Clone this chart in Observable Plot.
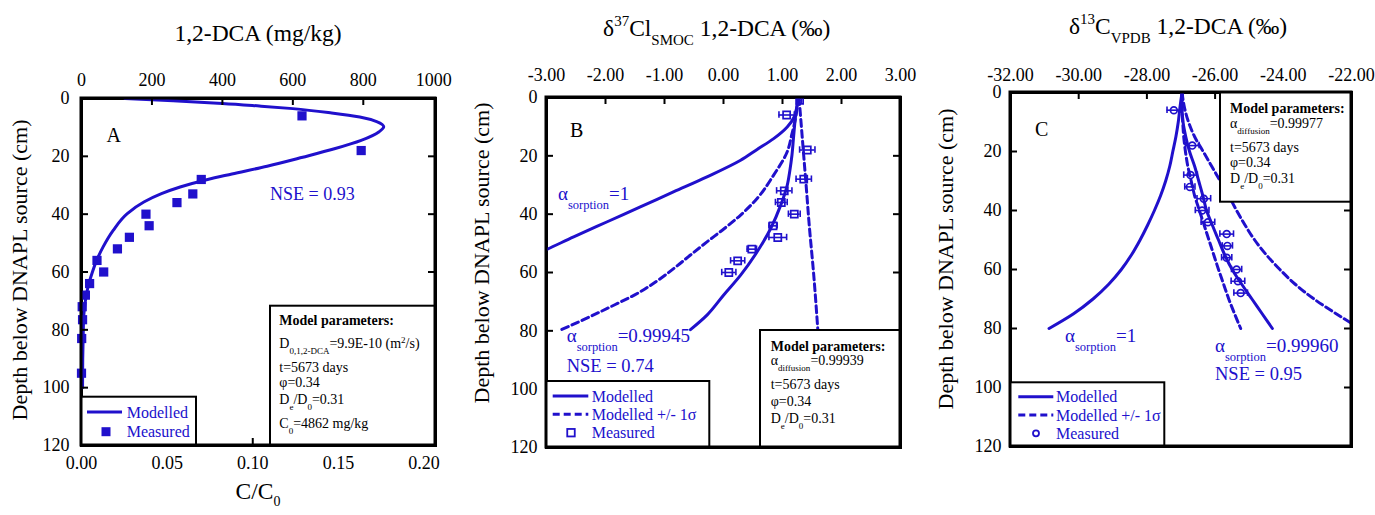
<!DOCTYPE html>
<html><head><meta charset="utf-8">
<script src="https://cdn.jsdelivr.net/npm/d3@7"></script>
<script src="https://cdn.jsdelivr.net/npm/@observablehq/plot@0.6"></script>
<style>
html,body{margin:0;padding:0;background:#fff;}
#wrap{position:relative;width:1375px;height:515px;overflow:hidden;background:#fff;}
#wrap svg{position:absolute;top:0;}
</style></head><body><div id="wrap"></div>
<script>
const BLUE = "#2010cc";
const FONT = "Liberation Serif";
const C0 = 4862;

// ---------- shared ----------
const depthTicks = [0, 20, 40, 60, 80, 100, 120];
const depthInner = [20, 40, 60, 80, 100];

// ---------- Panel A : 1,2-DCA concentration ----------
const aTopTicks = [0, 200, 400, 600, 800, 1000];
const aBottomTicks = [0, 0.05, 0.10, 0.15, 0.20];
const aMeasDepth = [6, 18, 28, 33, 36, 40, 44, 48, 52, 56, 60, 64, 68, 72, 76.5, 83, 95];
const aMeasConc  = [626, 794, 340, 316, 271, 183, 192, 136, 102, 44, 63, 23, 11, 2, 3, 0.5, 0];
const aModelDepth = [0, 0.8, 1.7, 2.6, 3.5, 5, 6.4, 8, 9.8, 11.5, 14.5, 17.4, 20.3, 23.4, 26.1, 28, 30.6, 32.9, 35.8, 39.8, 45.6, 51.4, 56, 60, 64, 68, 72, 76, 81, 90, 100];
const aModelConc  = [123, 260, 400, 505, 600, 710, 790, 838, 858, 845, 794, 718, 628, 527, 427, 358, 280, 227, 177, 130, 90, 61, 43, 31, 21, 13.5, 9, 6, 5, 3.5, 3];

// ---------- Panel B : d37Cl ----------
const bTopTicks = [-3, -2, -1, 0, 1, 2, 3];
const bMeasDepth = [1, 6, 18, 28, 32, 36, 40, 44, 48, 52, 56, 60];
const bMeasDelta = [1.29, 1.07, 1.42, 1.36, 1.03, 0.98, 1.2, 0.84, 0.92, 0.48, 0.24, 0.09];
const bMeasErr   = [0.03, 0.13, 0.13, 0.13, 0.13, 0.1, 0.1, 0.07, 0.15, 0.08, 0.12, 0.12];
const bSorp1Depth = [0, 3.5, 6.6, 10.1, 14.1, 17.8, 21.5, 27.2, 32.3, 37.5, 42.6, 47.8, 52.3, 55];
const bSorp1Delta = [1.27, 1.24, 1.2, 1.08, 0.85, 0.57, 0.29, -0.28, -0.84, -1.41, -1.97, -2.54, -3.02, -3.32];
const bFitDepth = [0, 6.6, 13, 19.8, 25, 30.1, 36.9, 44.9, 52.9, 60.9, 67.8, 74.6, 79.6];
const bFitDelta = [1.27, 1.22, 1.19, 1.16, 1.125, 1.08, 0.97, 0.8, 0.57, 0.29, 0.0, -0.28, -0.56];
const bLowDepth = [0, 7.2, 12.5, 18.6, 26.6, 34.6, 40.3, 45, 49.5, 54, 58.6, 62.8, 66.6, 72.3, 76.9, 79.6];
const bLowDelta = [1.27, 1.22, 1.16, 1.08, 0.85, 0.57, 0.29, 0.01, -0.28, -0.56, -0.84, -1.12, -1.41, -1.97, -2.45, -2.75];
const bHighDepth = [0, 10, 20, 30, 43, 61, 80];
const bHighDelta = [1.28, 1.32, 1.36, 1.4, 1.45, 1.53, 1.6];

// ---------- Panel C : d13C ----------
const cTopTicks = [-32, -30, -28, -26, -24, -22];
const cMeasDepth = [6, 18, 28, 32, 36, 40, 44, 48, 52, 56, 60, 64, 68];
const cMeasDelta = [-27.21, -26.67, -26.72, -26.74, -26.33, -26.38, -26.21, -25.66, -25.64, -25.66, -25.37, -25.33, -25.25];
const cMeasErr   = [0.2, 0.2, 0.2, 0.15, 0.2, 0.2, 0.2, 0.2, 0.15, 0.15, 0.15, 0.2, 0.2];
const cModelDepth = [0, 5, 10, 15, 20, 25, 30, 35, 40, 45, 50, 55, 60, 65, 70, 75, 80];
const cSorp1Delta = [-26.97, -27.03, -27.08, -27.15, -27.24, -27.33, -27.45, -27.6, -27.78, -27.98, -28.2, -28.45, -28.75, -29.12, -29.58, -30.15, -30.87];
const cFitDelta   = [-26.97, -26.97, -26.94, -26.86, -26.75, -26.6, -26.48, -26.36, -26.25, -26.08, -25.9, -25.72, -25.5, -25.22, -24.92, -24.62, -24.32];
const cLowDelta   = [-26.97, -26.97, -26.95, -26.92, -26.87, -26.8, -26.7, -26.6, -26.46, -26.32, -26.18, -26.04, -25.9, -25.75, -25.6, -25.43, -25.25];
const cHighDelta  = [-26.97, -26.9, -26.78, -26.6, -26.35, -26.1, -25.85, -25.6, -25.37, -25.12, -24.84, -24.5, -24.1, -23.65, -23.1, -22.45, -21.75];

// ---------- helpers ----------
const pts = (depth, val, err) => depth.map((d, i) => ({d, v: val[i], e: err ? err[i] : 0}));
const wrap = document.getElementById("wrap");

function makePanel(o) {
  const height = 515;
  const innerW = o.width - o.ml - o.mr, innerH = height - o.mt - o.mb;
  const L = 7;
  const tk = {stroke: "black", strokeWidth: 2};
  const marks = [
    Plot.frame({stroke: "black", strokeWidth: 3}),
    ...o.marks,
    Plot.tickX(o.topInner, {x: d => d, insetBottom: innerH - L, ...tk}),
    Plot.tickY(depthInner, {y: d => d, insetRight: innerW - L, ...tk}),
    Plot.tickY(depthInner, {y: d => d, insetLeft: innerW - L, ...tk}),
    Plot.axisX({anchor: "top", ticks: o.topTicks, tickSize: 0, tickPadding: o.topPad, tickFormat: o.topFmt, label: null}),
    Plot.axisY({anchor: "left", ticks: depthTicks, tickSize: 0, tickPadding: o.yPad, tickFormat: d => String(d), label: null})
  ];
  if (o.bottomTicks) {
    marks.push(
      Plot.tickX(o.bottomTicks.slice(1), {x: d => d, insetTop: innerH - L, ...tk}),
      Plot.axisX({anchor: "bottom", ticks: o.bottomTicks, tickSize: 0, tickPadding: 11, tickFormat: o.bottomFmt, label: null})
    );
  }
  const svg = Plot.plot({
    width: o.width, height,
    marginLeft: o.ml, marginRight: o.mr, marginTop: o.mt, marginBottom: o.mb,
    x: {domain: o.xDomain},
    y: {domain: [0, 120], reverse: true},
    style: {fontFamily: FONT, fontSize: "18px", color: "black", background: "transparent", overflow: "visible"},
    marks
  });
  svg.style.left = o.left + "px";
  wrap.appendChild(svg);
  const g = d3.select(svg).append("g");
  const X = x => x - o.left;
  const api = {
    text(x, y, parts, opt = {}) {
      const size = opt.size || 18;
      const t = g.append("text").attr("x", X(x)).attr("y", y)
        .attr("font-family", FONT).attr("font-size", size)
        .attr("text-anchor", opt.anchor || "start")
        .attr("font-weight", opt.weight || "normal")
        .attr("fill", opt.fill || "black");
      if (opt.rotate) t.attr("transform", `rotate(${opt.rotate},${X(x)},${y})`);
      let shift = 0;
      for (const p of parts) {
        const [s, k = "n", sz, off] = typeof p === "string" ? [p] : p;
        const target = k === "sub" ? (off ?? size * 0.42) : k === "sup" ? -(off ?? size * 0.42) : 0;
        const ts = t.append("tspan").text(s).attr("dy", target - shift);
        if (k !== "n") ts.attr("font-size", sz || Math.round(size * 0.62));
        shift = target;
      }
      return t;
    },
    rect(x1, y1, x2, y2) {
      g.append("rect").attr("x", X(x1)).attr("y", y1).attr("width", x2 - x1).attr("height", y2 - y1)
        .attr("fill", "white").attr("stroke", "black").attr("stroke-width", 2);
    },
    line(x1, y, x2, dash) {
      const l = g.append("line").attr("x1", X(x1)).attr("x2", X(x2)).attr("y1", y).attr("y2", y)
        .attr("stroke", BLUE).attr("stroke-width", 3);
      if (dash) l.attr("stroke-dasharray", "7,4");
    },
    square(x, y, s, filled) {
      g.append("rect").attr("x", X(x) - s / 2).attr("y", y - s / 2).attr("width", s).attr("height", s)
        .attr("fill", filled ? BLUE : "none").attr("stroke", BLUE).attr("stroke-width", filled ? 0 : 1.8);
    },
    circle(x, y, r) {
      g.append("circle").attr("cx", X(x)).attr("cy", y).attr("r", r)
        .attr("fill", "none").attr("stroke", BLUE).attr("stroke-width", 1.8);
    },
    frame() {
      g.append("rect").attr("x", o.ml).attr("y", o.mt).attr("width", innerW).attr("height", innerH)
        .attr("fill", "none").attr("stroke", "black").attr("stroke-width", 3);
    }
  };
  return api;
}

const solid = {stroke: BLUE, strokeWidth: 3, curve: "monotone-y"};
const dashed = {stroke: BLUE, strokeWidth: 3, strokeDasharray: "7,4", curve: "monotone-y"};

function errMarks(data, shape) {
  const st = {stroke: BLUE, strokeWidth: 1.6};
  return [
    Plot.ruleY(data, {y: "d", x1: d => d.v - d.e, x2: d => d.v + d.e, ...st}),
    Plot.ruleX(data, {x: d => d.v - d.e, y1: d => d.d - 1.1, y2: d => d.d + 1.1, ...st}),
    Plot.ruleX(data, {x: d => d.v + d.e, y1: d => d.d - 1.1, y2: d => d.d + 1.1, ...st}),
    shape === "square"
      ? Plot.dot(data, {x: "v", y: "d", symbol: "square", r: 4, stroke: BLUE, strokeWidth: 1.7, fill: "none"})
      : Plot.dot(data, {x: "v", y: "d", r: 3.4, stroke: BLUE, strokeWidth: 1.7, fill: "none"})
  ];
}

// ---------- Panel A ----------
const A = makePanel({
  left: 0, width: 460, ml: 81, mr: 25, mt: 98, mb: 70,
  xDomain: [0, 1005],
  topTicks: aTopTicks, topInner: [200, 400, 600, 800], topFmt: d => String(d), topPad: 13, yPad: 12,
  bottomTicks: aBottomTicks.map(c => c * C0), bottomFmt: d => (d / C0).toFixed(2),
  marks: [
    Plot.line(pts(aModelDepth, aModelConc), {x: "v", y: "d", ...solid}),
    Plot.dot(pts(aMeasDepth, aMeasConc), {x: "v", y: "d", symbol: "square", r: 5.2, fill: BLUE})
  ]
});
A.text(258, 41, ["1,2-DCA (mg/kg)"], {size: 23.5, anchor: "middle"});
A.text(27, 270, ["Depth below DNAPL source (cm)"], {size: 22, anchor: "middle", rotate: -90});
A.text(258, 499, ["C/C", ["0", "sub", 14, 7]], {size: 23.5, anchor: "middle"});
A.text(106.5, 141.7, ["A"], {size: 20});
A.text(270, 200, ["NSE = 0.93"], {size: 18, fill: BLUE});
A.rect(81, 396.7, 196, 445);
A.line(87, 412, 122);
A.text(126.7, 418.3, ["Modelled"], {size: 16, fill: BLUE});
A.square(106, 431.7, 9, true);
A.text(126.7, 437.3, ["Measured"], {size: 16, fill: BLUE});
A.rect(270, 305.7, 435, 445);
A.text(279.3, 325, ["Model parameters:"], {size: 14, weight: "bold"});
A.text(279.3, 348.3, ["D", ["0,1,2-DCA", "sub", 9, 6], "=9.9E-10 (m", ["2", "sup", 9, 5], "/s)"], {size: 14});
A.text(279.3, 371.7, ["t=5673 days"], {size: 14});
A.text(279.3, 387.3, ["φ=0.34"], {size: 14});
A.text(279.3, 404, ["D", ["e", "sub", 9, 6], "/D", ["0", "sub", 9, 6], "=0.31"], {size: 14});
A.text(279.3, 428.3, ["C", ["0", "sub", 9, 6], "=4862 mg/kg"], {size: 14});
A.frame();

// ---------- Panel B ----------
const B = makePanel({
  left: 460, width: 470, ml: 86, mr: 30, mt: 97, mb: 68,
  xDomain: [-3, 3],
  topTicks: bTopTicks, topInner: [-2, -1, 0, 1, 2], topFmt: d => d.toFixed(2), topPad: 17, yPad: 9,
  marks: [
    Plot.line(pts(bSorp1Depth, bSorp1Delta), {x: "v", y: "d", ...solid, clip: true}),
    Plot.line(pts(bLowDepth, bLowDelta), {x: "v", y: "d", ...dashed}),
    Plot.line(pts(bFitDepth, bFitDelta), {x: "v", y: "d", ...solid}),
    Plot.line(pts(bHighDepth, bHighDelta), {x: "v", y: "d", ...dashed}),
    ...errMarks(pts(bMeasDepth, bMeasDelta, bMeasErr), "square")
  ]
});
B.text(716.7, 36, ["δ", ["37", "sup", 15, 10], "Cl", ["SMOC", "sub", 15, 9], " 1,2-DCA (‰)"], {size: 23.5, anchor: "middle"});
B.text(489, 253, ["Depth below DNAPL source (cm)"], {size: 22, anchor: "middle", rotate: -90});
B.text(570, 137, ["B"], {size: 20});
B.text(558, 199.7, ["α", ["sorption", "sub", 12.5, 9], "=1"], {size: 19, fill: BLUE});
B.text(566.7, 341.7, ["α", ["sorption", "sub", 12.5, 9], "=0.99945"], {size: 19, fill: BLUE});
B.text(566.7, 371.7, ["NSE = 0.74"], {size: 18.5, fill: BLUE});
B.rect(546, 381, 709.3, 447);
B.line(552.7, 396, 588.3);
B.text(591.7, 401.7, ["Modelled"], {size: 16, fill: BLUE});
B.line(552.7, 414.3, 588.3, true);
B.text(591.7, 420, ["Modelled +/- 1σ"], {size: 16, fill: BLUE});
B.square(571, 432.7, 7.5, false);
B.text(591.7, 438.3, ["Measured"], {size: 16, fill: BLUE});
B.rect(760, 330, 900, 447);
B.text(770.7, 350.7, ["Model parameters:"], {size: 14, weight: "bold"});
B.text(770.7, 365, ["α", ["diffusion", "sub", 9, 6], "=0.99939"], {size: 14});
B.text(770.7, 389.3, ["t=5673 days"], {size: 14});
B.text(770.7, 406, ["φ=0.34"], {size: 14});
B.text(770.7, 422.7, ["D", ["e", "sub", 9, 6], "/D", ["0", "sub", 9, 6], "=0.31"], {size: 14});
B.frame();

// ---------- Panel C ----------
const C = makePanel({
  left: 930, width: 445, ml: 80, mr: 24, mt: 92, mb: 69,
  xDomain: [-32, -22],
  topTicks: cTopTicks, topInner: [-30, -28, -26, -24], topFmt: d => d.toFixed(2), topPad: 12, yPad: 9,
  marks: [
    Plot.line(pts(cModelDepth, cSorp1Delta), {x: "v", y: "d", ...solid}),
    Plot.line(pts(cModelDepth, cLowDelta), {x: "v", y: "d", ...dashed}),
    Plot.line(pts(cModelDepth, cFitDelta), {x: "v", y: "d", ...solid}),
    Plot.line(pts(cModelDepth, cHighDelta), {x: "v", y: "d", ...dashed, clip: true}),
    ...errMarks(pts(cMeasDepth, cMeasDelta, cMeasErr), "circle")
  ]
});
C.text(1178, 34, ["δ", ["13", "sup", 15, 10], "C", ["VPDB", "sub", 15, 9], " 1,2-DCA (‰)"], {size: 23.5, anchor: "middle"});
C.text(953, 259, ["Depth below DNAPL source (cm)"], {size: 22, anchor: "middle", rotate: -90});
C.text(1035, 136, ["C"], {size: 20});
C.text(1065, 341.7, ["α", ["sorption", "sub", 12.5, 9], "=1"], {size: 19, fill: BLUE});
C.text(1215, 351.7, ["α", ["sorption", "sub", 12.5, 9], "=0.99960"], {size: 19, fill: BLUE});
C.text(1215, 380, ["NSE = 0.95"], {size: 18.5, fill: BLUE});
C.rect(1010, 382.3, 1164.3, 447);
C.line(1018.3, 396.7, 1053.3);
C.text(1056, 402.3, ["Modelled"], {size: 16, fill: BLUE});
C.line(1018.3, 415, 1053.3, true);
C.text(1056, 420.7, ["Modelled +/- 1σ"], {size: 16, fill: BLUE});
C.circle(1036, 433.3, 3);
C.text(1056, 439.3, ["Measured"], {size: 16, fill: BLUE});
C.rect(1220, 92, 1351, 201.7);
C.text(1230, 113.3, ["Model parameters:"], {size: 14, weight: "bold"});
C.text(1230, 128.3, ["α", ["diffusion", "sub", 9, 6], "=0.99977"], {size: 14});
C.text(1230, 151.7, ["t=5673 days"], {size: 14});
C.text(1230, 166.7, ["φ=0.34"], {size: 14});
C.text(1230, 183.3, ["D", ["e", "sub", 9, 6], "/D", ["0", "sub", 9, 6], "=0.31"], {size: 14});
C.frame();
</script></body></html>
